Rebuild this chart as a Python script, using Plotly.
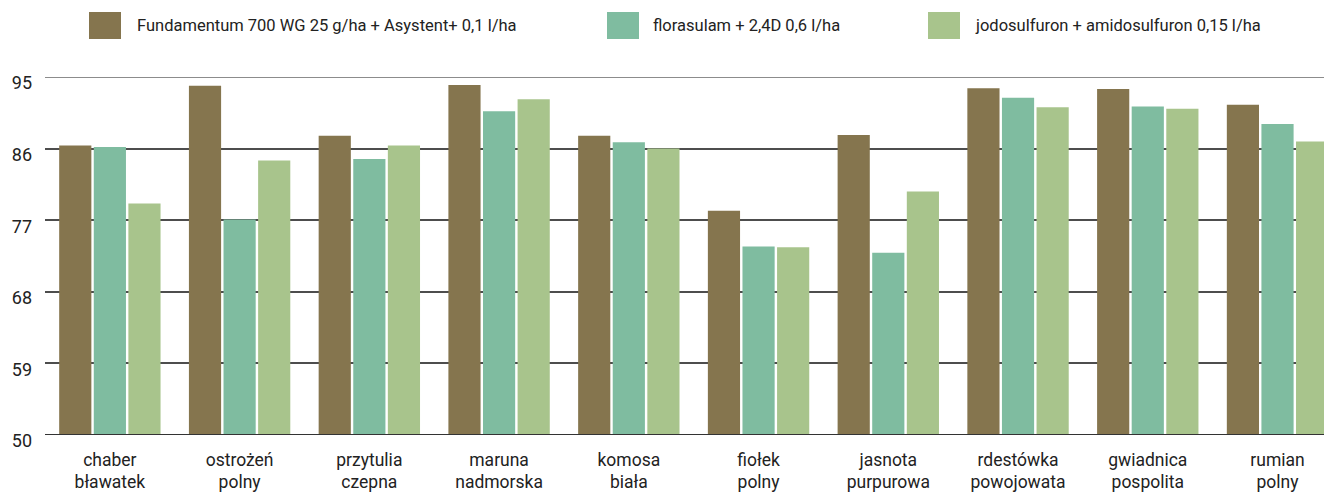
import plotly.graph_objects as go

categories = ["chaber<br>bławatek", "ostrożeń<br>polny", "przytulia<br>czepna", "maruna<br>nadmorska",
              "komosa<br>biała", "fiołek<br>polny", "jasnota<br>purpurowa", "rdestówka<br>powojowata",
              "gwiadnica<br>pospolita", "rumian<br>polny"]
series_names = ["Fundamentum 700 WG 25 g/ha + Asystent+ 0,1 l/ha",
                "florasulam + 2,4D 0,6 l/ha",
                "jodosulfuron + amidosulfuron 0,15 l/ha"]
fundamentum = [86.4, 93.9, 87.6, 94.0, 87.6, 78.2, 87.7, 93.6, 93.5, 91.5]
florasulam = [86.2, 77.1, 84.7, 90.7, 86.8, 73.7, 72.9, 92.4, 91.3, 89.1]
jodosulfuron = [79.1, 84.5, 86.4, 92.2, 86.0, 73.6, 80.6, 91.2, 91.0, 86.9]
colors = ["#85754e", "#7fbca0", "#a8c48c"]
y_ticks = [50, 59, 68, 77, 86, 95]

FONT = "Roboto, Lato, sans-serif"
TXT = "#222222"

fig = go.Figure()
for name, vals, col in zip(series_names, [fundamentum, florasulam, jodosulfuron], colors):
    fig.add_trace(go.Bar(x=categories, y=vals, name=name, marker_color=col,
                         marker_line_width=0, showlegend=False))

# page has an 8px body margin; figure is sized so that the plot lands where the reference has it
W, H = 1324, 486
PL, PT, PB = 37, 69, 59
PW, PH = W - PL, H - PT - PB


def px_x(page_x):
    return (page_x - 8 - PL) / PW


def px_y(page_y):
    return (H - PB - (page_y - 8)) / PH


# custom legend with large swatches
legend_pos = [(89, 135), (607, 651), (928, 973)]
for (sx, tx), name, col in zip(legend_pos, series_names, colors):
    fig.add_shape(type="rect", xref="paper", yref="paper",
                  x0=px_x(sx), x1=px_x(sx + 32), y0=px_y(39), y1=px_y(12),
                  fillcolor=col, line_width=0)
    fig.add_annotation(xref="paper", yref="paper", x=px_x(tx), y=px_y(25.5), text=name,
                       showarrow=False, xanchor="left", yanchor="middle",
                       font=dict(family=FONT, size=16.5, color=TXT))

fig.add_shape(type="line", xref="paper", yref="y", x0=0, x1=1, y0=95, y1=95,
              line=dict(color="#8c8c8c", width=2), layer="below")
fig.add_shape(type="line", xref="paper", yref="y", x0=0, x1=1, y0=50, y1=50,
              line=dict(color="#333333", width=2))

fig.update_layout(
    width=W, height=H, autosize=False,
    margin=dict(l=PL, r=0, t=PT, b=PB),
    plot_bgcolor="white", paper_bgcolor="white",
    barmode="group", bargap=0.2, bargroupgap=0.07,
    font=dict(family=FONT, size=17.5, color=TXT),
    xaxis=dict(range=[-0.5, 9.42], showgrid=False, ticks="", showline=False,
               tickfont=dict(size=17.5, color=TXT), ticklabelstandoff=12),
    yaxis=dict(range=[50, 95], tickvals=y_ticks, showgrid=True, gridcolor="#4d4d4d",
               gridwidth=1.5, zeroline=False, showline=False, ticks="",
               ticklabelstandoff=12, ticklabelshift=6,
               tickfont=dict(size=18, color=TXT)),
)
fig.write_html("out.html")
